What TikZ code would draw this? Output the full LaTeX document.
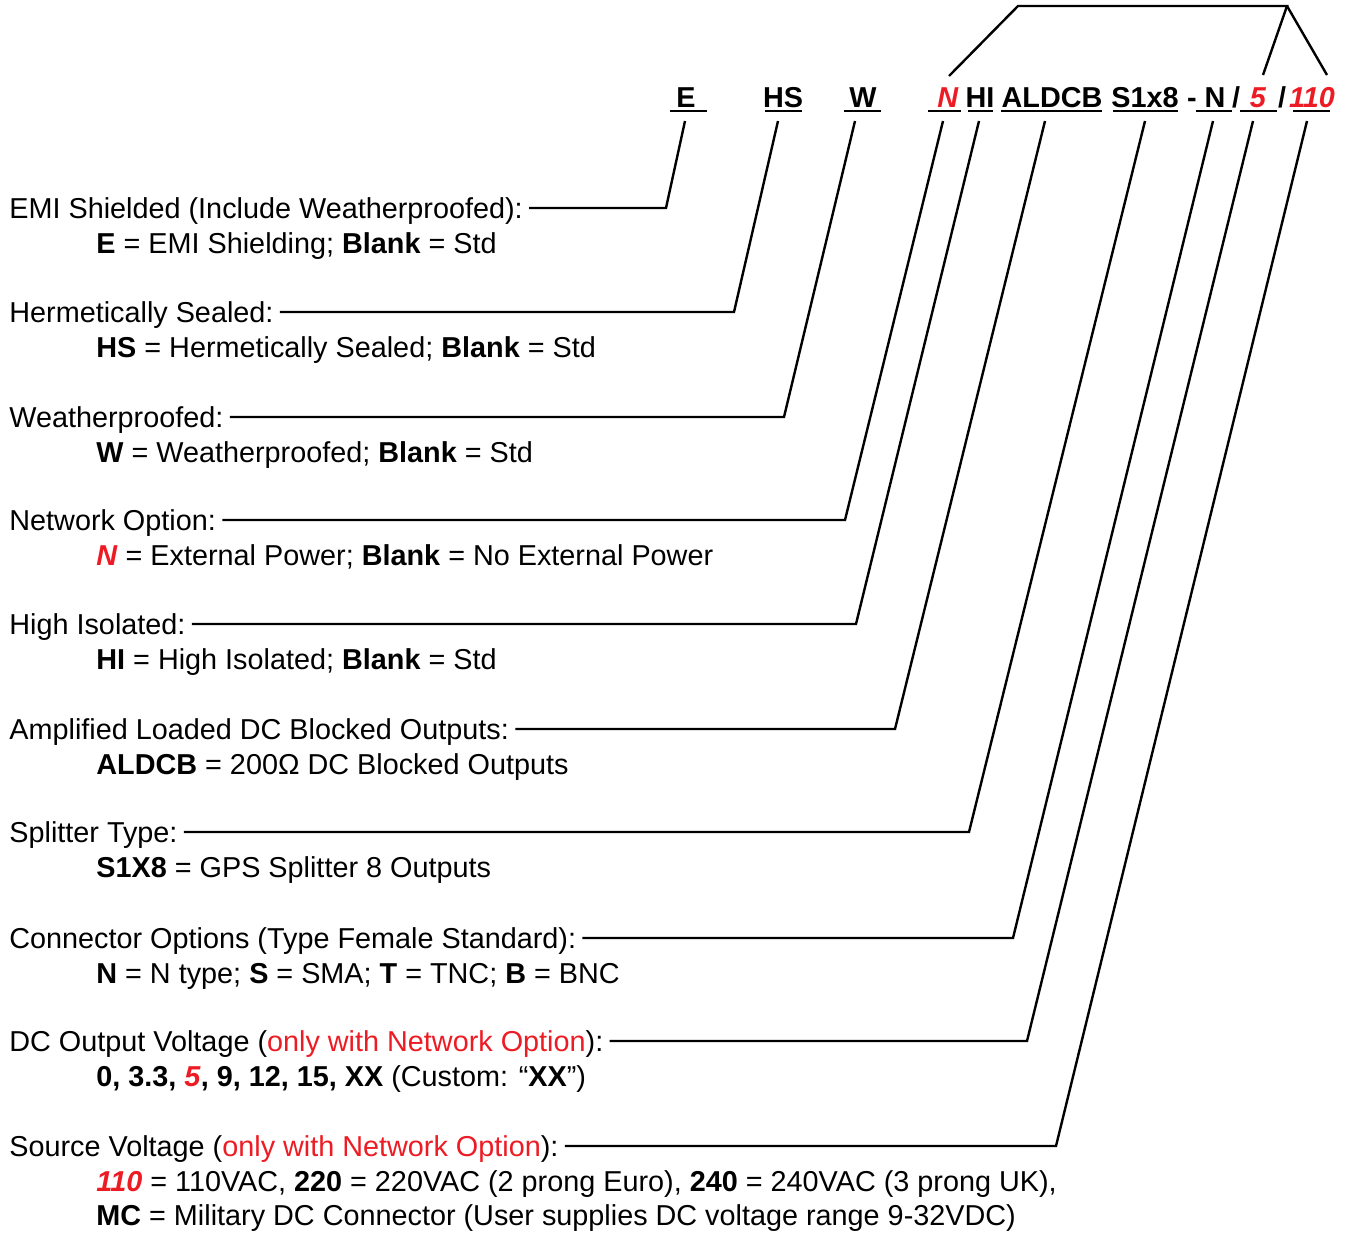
\documentclass[tikz,border=0pt]{standalone}
\usepackage{fontspec}
\setmainfont{Liberation Sans}
\usepackage{xcolor}
\usetikzlibrary{calc}
\definecolor{optRed}{RGB}{237,28,36}
\def\figScale{0.5}
\def\lineThickness{(1.2pt)}
\def\fScale{\fontsize{14.4}{17}\selectfont}
\def\ulY{111}
\def\legTop{121}
\tikzset{lead/.style={black,line width=\lineThickness,line join=miter}}
\tikzset{uline/.style={black,line width=\lineThickness}}
\tikzset{code/.style={font=\fScale\bfseries,anchor=base,inner sep=0}}
\tikzset{title/.style={font=\fScale,anchor=base west,inner sep=0}}
\tikzset{opt/.style={font=\fScale,anchor=base west,inner sep=0}}
\newcommand{\rtxt}[1]{\textcolor{optRed}{#1}}
\newcommand{\rcode}[1]{\textcolor{optRed}{\textbf{\textit{#1}}}}
\newcommand{\legline}[4]{\draw[lead] (#1,\legTop)--(#2,#3)--($(#4.base east)+(6,-10)$);}

\begin{document}
\begin{tikzpicture}[x=\figScale pt,y=-\figScale pt]
\useasboundingbox (0,0) rectangle (1349,1232);
% part number
\node[code] (cE) at (686,107) {E};
\node[code] (cHS) at (783,107) {HS};
\node[code] (cW) at (863,107) {W};
\node[code] (cN) at (948,107) {\rcode{N}};
\node[code] (cHI) at (980,107) {HI};
\node[code] (cAL) at (1052,107) {ALDCB};
\node[code] (cS) at (1145,107) {S1x8};
\node[code] (dash) at (1192,107) {-};
\node[code] (cCon) at (1215,107) {N};
\node[code] (sl1) at (1236,107) {/};
\node[code] (cDC) at (1258,107) {\rcode{5}};
\node[code] (sl2) at (1282,107) {/};
\node[code] (cSrc) at (1312,107) {\rcode{110}};
\foreach\l/\r in {670/707,765/802,844/881,928/961,968/993,1001/1102,1113/1178,1196/1232,1240/1277,1293/1330}{\draw[uline] (\l,\ulY)--(\r,\ulY);};
% network bracket
\coordinate (bk1) at (1018,6);\coordinate (bk2) at (1287,6);
\coordinate (bkN) at (949,76);\coordinate (bkDC) at (1263,75);\coordinate (bkSrc) at (1327,75);
\draw[lead] (bkN)--(bk1)--(bk2)--(bkDC);\draw[lead] (bk2)--(bkSrc);
% options
\node[title] (tE) at (9,218) {EMI Shielded (Include Weatherproofed):};
\node[opt] (oE) at (96,253) {\textbf{E} = EMI Shielding; \textbf{Blank} = Std};
\node[title] (tHS) at (9,322) {Hermetically Sealed:};
\node[opt] (oHS) at (96,357) {\textbf{HS} = Hermetically Sealed; \textbf{Blank} = Std};
\node[title] (tW) at (9,427) {Weatherproofed:};
\node[opt] (oW) at (96,462) {\textbf{W} = Weatherproofed; \textbf{Blank} = Std};
\node[title] (tN) at (9,530) {Network Option:};
\node[opt] (oN) at (96,565) {\rcode{N} = External Power; \textbf{Blank} = No External Power};
\node[title] (tHI) at (9,634) {High Isolated:};
\node[opt] (oHI) at (96,669) {\textbf{HI} = High Isolated; \textbf{Blank} = Std};
\node[title] (tAL) at (9,739) {Amplified Loaded DC Blocked Outputs:};
\node[opt] (oAL) at (96,774) {\textbf{ALDCB} = 200Ω DC Blocked Outputs};
\node[title] (tS) at (9,842) {Splitter Type:};
\node[opt] (oS) at (96,877) {\textbf{S1X8} = GPS Splitter 8 Outputs};
\node[title] (tCon) at (9,948) {Connector Options (Type Female Standard):};
\node[opt] (oCon) at (96,983) {\textbf{N} = N type; \textbf{S} = SMA; \textbf{T} = TNC; \textbf{B} = BNC};
\node[title] (tDC) at (9,1051) {DC Output Voltage (\rtxt{only with Network Option}):};
\node[opt] (oDC) at (96,1086) {\textbf{0, 3.3, \rcode{5}, 9, 12, 15, XX} (Custom: “\textbf{XX}”)};
\node[title] (tSrc) at (9,1156) {Source Voltage (\rtxt{only with Network Option}):};
\node[opt] (oSrc) at (96,1191) {\rcode{110} = 110VAC, \textbf{220} = 220VAC (2 prong Euro), \textbf{240} = 240VAC (3 prong UK),};
\node[opt] (oMC) at (96,1225) {\textbf{MC} = Military DC Connector (User supplies DC voltage range 9-32VDC)};
% leaders
\legline{685}{666}{208}{tE}
\legline{778}{734}{312}{tHS}
\legline{855}{784}{417}{tW}
\legline{943}{845}{520}{tN}
\legline{979}{856}{624}{tHI}
\legline{1045}{895}{729}{tAL}
\legline{1145}{969}{832}{tS}
\legline{1213}{1013}{938}{tCon}
\legline{1253}{1027}{1041}{tDC}
\legline{1307}{1056}{1146}{tSrc}
\end{tikzpicture}
\end{document}
